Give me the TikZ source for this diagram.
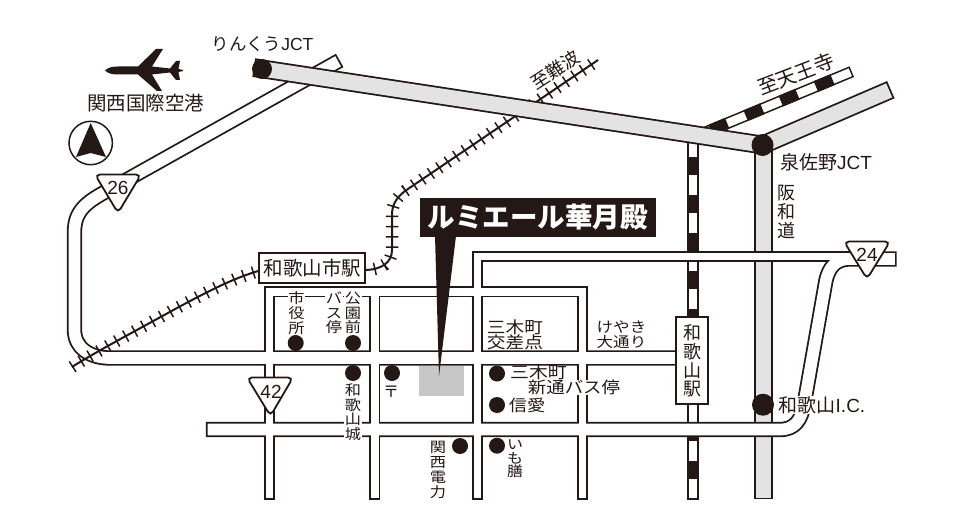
\documentclass[tikz,border=0pt]{standalone}
\usepackage{fontspec}
\newfontfamily\jp{Noto Sans CJK JP}
\newfontfamily\jpw[FakeStretch=1.14]{Noto Sans CJK JP}
\newfontfamily\lat{Liberation Sans}
\lineskiplimit=-30pt
\normallineskiplimit=-30pt
\definecolor{ink}{HTML}{231815}
\definecolor{xgray}{HTML}{E3E3E3}
\tikzset{
  nk/.style={draw=ink,line width=11.3pt,line cap=rect},
  nw/.style={draw=white,line width=7.7pt,line cap=rect},
  wk/.style={draw=ink,line width=15.3pt,line cap=rect,line join=round},
  ww/.style={draw=white,line width=11.7pt,line cap=rect,line join=round},
  xk/.style={draw=ink,line width=18.8pt,line cap=rect},
  xg/.style={draw=xgray,line width=15.2pt,line cap=rect},
  jrk/.style={draw=ink,line width=11.6pt,line cap=rect},
  jrw/.style={draw=white,line width=8.4pt,line cap=rect},
  jrd/.style={draw=ink,line width=11.6pt,line cap=butt,dash pattern=on 18pt off 20pt,dash phase=18pt},
  tick/.style={draw=ink,line width=12.5pt,line cap=butt,dash pattern=on 1.5pt off 8.7pt},
  trackline/.style={draw=ink,line width=2pt},
  jt/.style={font=\jp\fontsize{#1}{#1}\selectfont,inner sep=0pt,text=ink},
  jw/.style={font=\jpw\fontsize{#1}{#1}\selectfont,inner sep=0pt,text=ink},
  vt/.style n args={2}{font=\jp\fontsize{#1}{#2}\selectfont,inner sep=0pt,text=ink,align=center},
  vw/.style n args={2}{font=\jpw\fontsize{#1}{#2}\selectfont,inner sep=0pt,text=ink,align=center},
  halo/.style={fill=white,inner sep=0.5pt},
  sign/.style={draw=ink,fill=white,line width=1.8pt,rounded corners=5pt},
  num/.style={font=\lat\fontsize{19}{19}\selectfont,inner sep=0pt,text=ink},
  poi/.style={fill=ink},
  stbox/.style={draw=ink,fill=white,line width=2pt},
}
\begin{document}
\begin{tikzpicture}[x=1pt,y=-1pt]
\useasboundingbox (0,0) rectangle (968,508);
% JR railways
\path[jrk] (846.4,73.9) -- (692.7,137.6);
\path[jrw] (846.4,73.9) -- (692.7,137.6);
\path[jrd] (851,72) -- (692.7,137.6);
\path[jrk] (692.7,140) -- (692.7,494);
\path[jrw] (692.7,140) -- (692.7,494);
\path[jrd] (692.7,498.5) -- (692.7,140);
% expressway, southern arm
\path[xk] (763.5,145) -- (763.5,490);
\path[xg] (763.5,145) -- (763.5,490);
% roads: black casing
\path[nk] (269.5,291.7) -- (582.5,291.7);
\path[nk] (269.5,291.7) -- (269.5,494.2);
\path[nk] (374.7,291.7) -- (374.7,494.2);
\path[nk] (477.5,256.5) -- (477.5,494.2);
\path[nk] (582.5,291.7) -- (582.5,494.2);
\path[nk] (477.5,256.5) -- (860,256.5);
\path[wk] (333,64.2) -- (105,192) .. controls (85,203) and (74.5,212) .. (74.5,232) -- (74.5,330) .. controls (74.5,348) and (90,358) .. (110,358) -- (680,358);
\path[wk] (213.5,429.5) -- (780,429.5) .. controls (795,429.5) and (801,420) .. (804,405) -- (826,280) .. controls (829,268) and (835,259) .. (850,259) -- (889,259);
% roads: white fill
\path[nw] (269.5,291.7) -- (582.5,291.7);
\path[nw] (269.5,291.7) -- (269.5,494.2);
\path[nw] (374.7,291.7) -- (374.7,494.2);
\path[nw] (477.5,256.5) -- (477.5,494.2);
\path[nw] (582.5,291.7) -- (582.5,494.2);
\path[nw] (477.5,256.5) -- (860,256.5);
\path[ww] (333,64.2) -- (105,192) .. controls (85,203) and (74.5,212) .. (74.5,232) -- (74.5,330) .. controls (74.5,348) and (90,358) .. (110,358) -- (680,358);
\path[ww] (213.5,429.5) -- (780,429.5) .. controls (795,429.5) and (801,420) .. (804,405) -- (826,280) .. controls (829,268) and (835,259) .. (850,259) -- (889,259);
% ticked railway
\def\railA{(72,367) .. controls (90,355) and (150,323) .. (177,308) .. controls (205,293) and (235,277) .. (262,270)}
\def\railB{(364,270) .. controls (382,270) and (392,262) .. (392,250) -- (392,215) .. controls (392,205) and (396,198) .. (405,191) -- (598,60)}
\path[trackline] \railA;
\path[tick] \railA;
\path[trackline] \railB;
\path[tick] \railB;
% expressway, west and north-east arms
\path[xk] (263,69) -- (762.5,145) -- (882.2,93.4);
\path[xg] (263,69) -- (762.5,145) -- (882.2,93.4);
\fill[ink] (262,69) circle (10);
\fill[ink] (762.5,145) circle (11);
\fill[ink] (763,404.7) circle (11);
% site
\fill[fill=black!22] (419,366) rectangle (464,396);
\fill[ink] (435,236) -- (456,236) -- (439,376) -- cycle;
\node[fill=ink,text=white,font=\jp\bfseries\fontsize{27.5}{27.5}\selectfont,inner sep=0pt,minimum width=236pt,minimum height=39pt] (title) at (537.7,217.5) {ルミエール華月殿};
% stations
\node[stbox,minimum width=106pt,minimum height=29.5pt,inner sep=0pt] (shieki) at (312.3,268) {};
\node[jt=19.5] (shiekit) at (312.3,268.5) {和歌山市駅};
\node[stbox,minimum width=32pt,minimum height=87pt,inner sep=0pt] (wakeki) at (692,360.5) {};
\node[vt={18}{18.6}] (wakekit) at (692,361) {和\\歌\\山\\駅};
% airplane
\fill[ink] (105,70.5) .. controls (108,67.5) and (112,66.5) .. (118,66.5) -- (138,66.5) -- (156,49) -- (163,49) -- (152,66.5) -- (170,68.5) -- (176,61) -- (180,61) -- (178.5,69) -- (183,70) -- (183,71) -- (178.5,72) -- (180,80) -- (176,80) -- (170,72.5) -- (152,74.5) -- (162,91) -- (157,91) -- (138,74.5) -- (118,74.5) .. controls (112,74.5) and (108,73.5) .. (105,70.5) -- cycle;
\node[jt=19.5] (kix) at (145.5,103) {関西国際空港};
% north mark
\draw[ink,line width=1.5pt] (90.7,143) circle (21.7);
\fill[ink] (90.7,123) -- (106,157) -- (90.7,153) -- (76,157) -- cycle;
% route signs
\path[sign] (95,174.5) -- (141,174.5) -- (118,213) -- cycle;
\node[num] (r26) at (118,188) {26};
\path[sign] (247,377.5) -- (293,377.5) -- (270.5,416) -- cycle;
\node[num] (r42) at (271,392) {42};
\path[sign] (844,241.5) -- (890,241.5) -- (867,279) -- cycle;
\node[num] (r24) at (867,254.5) {24};
% points
\fill[poi] (295.7,343) circle (8);
\fill[poi] (353,343) circle (8);
\fill[poi] (353,373) circle (8);
\fill[poi] (392,373) circle (8);
\fill[poi] (497,373.5) circle (8);
\fill[poi] (497,405) circle (8);
\fill[poi] (460,446) circle (8);
\fill[poi] (497,445.7) circle (8);
% labels
\node[jt=17.5] (rinku) at (262.5,44) {りんくう{\lat JCT}};
\node[jt=19,anchor=west] (izumi) at (780,162) {泉佐野{\lat JCT}};
\node[vt={18}{18.6}] (hanwa) at (786,212) {阪\\和\\道};
\node[vw={14.2}{14.6},halo] (shiyaku) at (296.5,313) {市\\役\\所};
\node[vw={14.2}{14.6},halo] (busstop) at (334,313) {バ\\ス\\停};
\node[vw={14.2}{14.6},halo] (koen) at (353,313) {公\\園\\前};
\node[vw={14.2}{14.6},halo] (shiro) at (353,412) {和\\歌\\山\\城};
\node[jt=16] (post) at (391,392) {〒};
\node[vw={16.4}{15}] (miki) at (515,335) {三木町\\交差点};
\node[vw={14.5}{15}] (keyaki) at (621.5,335) {けやき\\大通り};
\node[jw=16.6] (miki2) at (538.5,372) {三木町};
\node[jw=16.2,halo] (shintsu) at (574,387.5) {新通バス停};
\node[jw=16] (shinai) at (527,405) {信愛};
\node[vw={14.2}{15},halo] (kanden) at (438,470) {関\\西\\電\\力};
\node[vw={14}{13.5}] (imozen) at (515,459) {い\\も\\膳};
\node[jt=18,rotate=33] (nanba) at (555,70) {至難波};
\node[jt=20,rotate=21] (tennoji) at (795.7,74) {至天王寺};
\node[jt=19,halo,anchor=west] (wic) at (778,405) {和歌山{\lat I.C.}};
\end{tikzpicture}
\end{document}
